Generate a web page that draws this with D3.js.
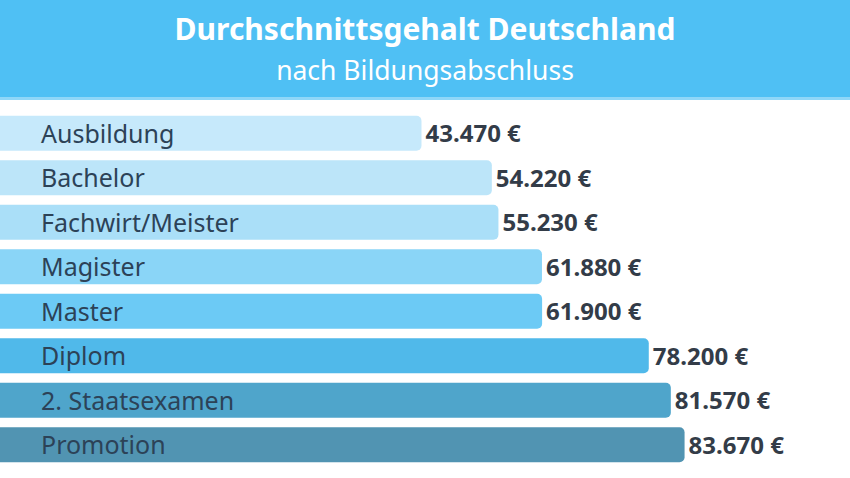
<!DOCTYPE html>
<html><head><meta charset="utf-8">
<script src="https://cdn.jsdelivr.net/npm/d3@7"></script>
<style>
html,body{margin:0;padding:0;background:#fff;}
svg{display:block;}
</style></head>
<body>
<script>
const title = "Durchschnittsgehalt Deutschland";
const subtitle = "nach Bildungsabschluss";
const categories = ["Ausbildung","Bachelor","Fachwirt/Meister","Magister","Master","Diplom","2. Staatsexamen","Promotion"];
const values = [43470,54220,55230,61880,61900,78200,81570,83670];
const valueLabels = ["43.470 €","54.220 €","55.230 €","61.880 €","61.900 €","78.200 €","81.570 €","83.670 €"];
const barColors = ["#c6e9fb","#bce5f9","#aadff8","#8ad5f7","#6ccaf5","#50b9ea","#4fa5cb","#5194b2"];

const W = 850, H = 478;
const FONT = "'Noto Sans', 'Open Sans', sans-serif";
const svg = d3.select("body").append("svg").attr("width", W).attr("height", H);

// header
svg.append("rect").attr("x",0).attr("y",0).attr("width",W).attr("height",100).attr("fill","#4fc0f4");
svg.append("rect").attr("x",0).attr("y",97).attr("width",W).attr("height",3).attr("fill","#8fd7f8");
svg.append("text").attr("x",W/2).attr("y",40).attr("text-anchor","middle")
  .attr("font-family",FONT).attr("font-weight",700)
  .attr("font-size",30).attr("fill","#fff").text(title);
svg.append("text").attr("x",W/2).attr("y",80).attr("text-anchor","middle")
  .attr("font-family",FONT).attr("font-weight",400)
  .attr("font-size",26.5).attr("fill","#fff").text(subtitle);

const x = d3.scaleLinear().domain([0, 90000]).range([137, 726]);
const y = d3.scaleBand().domain(categories).range([111, 467]).paddingInner(0.21).paddingOuter(0.105);

const rows = svg.append("g").selectAll("g.row")
  .data(categories.map((c,i)=>({c, v:values[i], l:valueLabels[i], col:barColors[i]})))
  .enter().append("g").attr("class","row");

rows.append("rect")
  .attr("x",-10).attr("y",d=>y(d.c))
  .attr("width",d=>x(d.v)+10).attr("height",y.bandwidth())
  .attr("rx",5).attr("ry",5).attr("fill",d=>d.col);

rows.append("text")
  .attr("x",41).attr("y",d=>y(d.c)+y.bandwidth()/2).attr("dy","0.37em")
  .attr("font-family",FONT).attr("font-size",25)
  .attr("fill","#2c4257").text(d=>d.c);

rows.append("text")
  .attr("x",d=>x(d.v)+4).attr("y",d=>y(d.c)+y.bandwidth()/2).attr("dy","0.37em")
  .attr("font-family",FONT).attr("font-weight",700).attr("font-size",24)
  .attr("fill","#333c48").text(d=>d.l);
</script>
</body></html>
